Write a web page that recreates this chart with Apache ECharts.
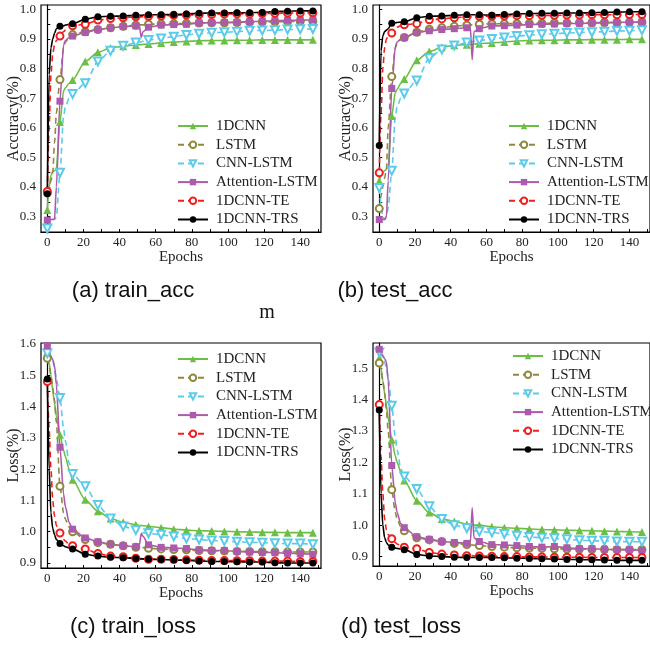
<!DOCTYPE html>
<html>
<head>
<meta charset="utf-8">
<script src="https://cdn.jsdelivr.net/npm/echarts@6/dist/echarts.min.js"></script>
<style>
  html, body { margin: 0; padding: 0; background: #fff; }
  #main { width: 650px; height: 646px; }
</style>
</head>
<body>
<div id="main"></div>
<script>
// epochs sampled from the curves (markers sit on multiples of 7)
var epochs = [0, 1, 2, 3, 4, 5, 7, 9, 10, 12, 14, 21, 28, 35, 42, 49, 51, 52, 53, 56, 63, 70, 77, 84, 91, 98, 105, 112, 119, 126, 133, 140, 147];
var modelNames = ["1DCNN", "LSTM", "CNN-LSTM", "Attention-LSTM", "1DCNN-TE", "1DCNN-TRS"];
var xTickLabels = [0, 20, 40, 60, 80, 100, 120, 140];
var accTickLabels = [0.3, 0.4, 0.5, 0.6, 0.7, 0.8, 0.9, 1.0];
var trainLossTickLabels = [0.9, 1.0, 1.1, 1.2, 1.3, 1.4, 1.5, 1.6];
var testLossTickLabels = [0.9, 1.0, 1.1, 1.2, 1.3, 1.4, 1.5];
var captions = ["(a) train_acc", "(b) test_acc", "(c) train_loss", "(d) test_loss"];

// (a) train_acc
var trainAcc_1dcnn = [0.322, 0.40, 0.44, 0.452, 0.455, 0.46, 0.62, 0.725, 0.735, 0.75, 0.762, 0.824, 0.855, 0.870, 0.876, 0.880, 0.881, 0.881, 0.882, 0.883, 0.887, 0.890, 0.892, 0.894, 0.895, 0.895, 0.896, 0.896, 0.897, 0.897, 0.897, 0.897, 0.898];
var trainAcc_lstm = [0.38, 0.40, 0.42, 0.45, 0.55, 0.65, 0.763, 0.87, 0.89, 0.905, 0.915, 0.925, 0.932, 0.938, 0.943, 0.947, 0.948, 0.948, 0.948, 0.950, 0.951, 0.952, 0.953, 0.954, 0.955, 0.955, 0.956, 0.957, 0.958, 0.958, 0.959, 0.960, 0.960];
var trainAcc_cnnlstm = [0.26, 0.28, 0.29, 0.29, 0.29, 0.30, 0.448, 0.64, 0.67, 0.70, 0.714, 0.751, 0.824, 0.860, 0.877, 0.888, 0.890, 0.891, 0.892, 0.897, 0.902, 0.908, 0.914, 0.918, 0.921, 0.923, 0.925, 0.928, 0.929, 0.930, 0.932, 0.933, 0.934];
var trainAcc_att = [0.288, 0.29, 0.29, 0.29, 0.292, 0.40, 0.69, 0.88, 0.895, 0.905, 0.910, 0.922, 0.932, 0.938, 0.942, 0.944, 0.944, 0.905, 0.925, 0.940, 0.947, 0.949, 0.950, 0.954, 0.955, 0.956, 0.957, 0.959, 0.960, 0.962, 0.963, 0.964, 0.965];
var trainAcc_te = [0.385, 0.60, 0.78, 0.85, 0.88, 0.895, 0.910, 0.925, 0.93, 0.94, 0.945, 0.950, 0.964, 0.969, 0.972, 0.975, 0.975, 0.975, 0.976, 0.977, 0.978, 0.980, 0.981, 0.982, 0.983, 0.984, 0.985, 0.985, 0.986, 0.987, 0.988, 0.988, 0.989];
var trainAcc_trs = [0.377, 0.78, 0.87, 0.90, 0.92, 0.935, 0.943, 0.945, 0.947, 0.95, 0.952, 0.967, 0.975, 0.977, 0.978, 0.980, 0.980, 0.980, 0.981, 0.982, 0.982, 0.983, 0.985, 0.987, 0.988, 0.988, 0.989, 0.989, 0.990, 0.993, 0.994, 0.995, 0.995];

// (b) test_acc
var testAcc_1dcnn = [0.42, 0.44, 0.45, 0.455, 0.46, 0.47, 0.64, 0.72, 0.73, 0.75, 0.765, 0.828, 0.858, 0.872, 0.879, 0.881, 0.882, 0.882, 0.883, 0.884, 0.887, 0.890, 0.893, 0.895, 0.896, 0.896, 0.897, 0.897, 0.898, 0.898, 0.898, 0.899, 0.899];
var testAcc_lstm = [0.327, 0.37, 0.40, 0.43, 0.46, 0.60, 0.773, 0.87, 0.885, 0.898, 0.905, 0.923, 0.933, 0.938, 0.943, 0.947, 0.948, 0.948, 0.948, 0.950, 0.951, 0.952, 0.952, 0.953, 0.953, 0.954, 0.954, 0.955, 0.955, 0.956, 0.956, 0.957, 0.957];
var testAcc_cnnlstm = [0.397, 0.34, 0.30, 0.29, 0.30, 0.33, 0.455, 0.64, 0.67, 0.70, 0.716, 0.760, 0.835, 0.865, 0.878, 0.888, 0.890, 0.891, 0.892, 0.895, 0.900, 0.905, 0.910, 0.913, 0.916, 0.918, 0.920, 0.922, 0.923, 0.925, 0.927, 0.928, 0.930];
var testAcc_att = [0.29, 0.29, 0.29, 0.29, 0.30, 0.42, 0.733, 0.875, 0.89, 0.90, 0.905, 0.922, 0.928, 0.932, 0.935, 0.938, 0.938, 0.830, 0.925, 0.935, 0.944, 0.945, 0.947, 0.949, 0.950, 0.951, 0.952, 0.953, 0.954, 0.955, 0.956, 0.957, 0.958];
var testAcc_te = [0.448, 0.65, 0.80, 0.87, 0.90, 0.91, 0.920, 0.935, 0.94, 0.945, 0.948, 0.952, 0.965, 0.968, 0.972, 0.975, 0.975, 0.975, 0.976, 0.977, 0.977, 0.978, 0.979, 0.979, 0.980, 0.980, 0.981, 0.981, 0.982, 0.982, 0.982, 0.983, 0.983];
var testAcc_trs = [0.540, 0.86, 0.91, 0.925, 0.93, 0.935, 0.953, 0.955, 0.956, 0.957, 0.958, 0.972, 0.977, 0.978, 0.980, 0.982, 0.982, 0.982, 0.982, 0.982, 0.980, 0.983, 0.985, 0.986, 0.987, 0.987, 0.988, 0.988, 0.989, 0.990, 0.991, 0.992, 0.992];

// (c) train_loss
var trainLoss_1dcnn = [1.575, 1.54, 1.50, 1.45, 1.41, 1.37, 1.310, 1.26, 1.24, 1.20, 1.166, 1.102, 1.065, 1.042, 1.030, 1.022, 1.020, 1.020, 1.019, 1.017, 1.013, 1.008, 1.005, 1.003, 1.002, 1.001, 1.000, 0.999, 0.998, 0.998, 0.997, 0.997, 0.997];
var trainLoss_lstm = [1.554, 1.53, 1.50, 1.46, 1.42, 1.35, 1.145, 1.06, 1.04, 1.015, 1.000, 0.975, 0.965, 0.960, 0.955, 0.950, 0.950, 0.950, 0.949, 0.947, 0.945, 0.943, 0.942, 0.940, 0.939, 0.938, 0.937, 0.937, 0.936, 0.936, 0.935, 0.935, 0.935];
var trainLoss_cnnlstm = [1.57, 1.565, 1.56, 1.55, 1.52, 1.49, 1.427, 1.33, 1.29, 1.22, 1.184, 1.145, 1.085, 1.042, 1.017, 1.005, 1.000, 0.998, 0.997, 0.995, 0.990, 0.985, 0.978, 0.975, 0.972, 0.970, 0.968, 0.966, 0.965, 0.963, 0.962, 0.962, 0.960];
var trainLoss_att = [1.594, 1.58, 1.56, 1.55, 1.53, 1.47, 1.270, 1.12, 1.08, 1.03, 1.008, 0.980, 0.968, 0.960, 0.955, 0.952, 0.958, 0.995, 0.985, 0.958, 0.950, 0.948, 0.946, 0.942, 0.940, 0.940, 0.937, 0.935, 0.934, 0.933, 0.931, 0.930, 0.928];
var trainLoss_te = [1.48, 1.33, 1.20, 1.10, 1.05, 1.02, 0.996, 0.975, 0.97, 0.96, 0.955, 0.945, 0.930, 0.922, 0.920, 0.915, 0.914, 0.914, 0.913, 0.912, 0.912, 0.911, 0.910, 0.909, 0.908, 0.908, 0.907, 0.907, 0.906, 0.906, 0.906, 0.905, 0.905];
var trainLoss_trs = [1.488, 1.20, 1.06, 1.01, 0.99, 0.975, 0.962, 0.955, 0.952, 0.948, 0.945, 0.928, 0.922, 0.918, 0.917, 0.914, 0.913, 0.913, 0.913, 0.912, 0.911, 0.910, 0.908, 0.906, 0.905, 0.905, 0.904, 0.903, 0.903, 0.901, 0.900, 0.900, 0.900];

// (d) test_loss
var testLoss_1dcnn = [1.532, 1.50, 1.46, 1.42, 1.38, 1.34, 1.272, 1.22, 1.20, 1.17, 1.142, 1.078, 1.040, 1.020, 1.012, 1.003, 1.002, 1.001, 1.000, 1.000, 0.995, 0.992, 0.990, 0.988, 0.986, 0.985, 0.984, 0.983, 0.982, 0.981, 0.980, 0.979, 0.978];
var testLoss_lstm = [1.516, 1.49, 1.46, 1.42, 1.37, 1.30, 1.113, 1.04, 1.02, 0.995, 0.982, 0.960, 0.953, 0.948, 0.942, 0.938, 0.937, 0.937, 0.936, 0.935, 0.932, 0.930, 0.928, 0.927, 0.926, 0.925, 0.924, 0.924, 0.923, 0.923, 0.922, 0.922, 0.922];
var testLoss_cnnlstm = [1.55, 1.545, 1.53, 1.52, 1.50, 1.47, 1.380, 1.28, 1.24, 1.18, 1.155, 1.115, 1.060, 1.020, 1.000, 0.990, 0.985, 0.983, 0.982, 0.980, 0.977, 0.972, 0.966, 0.962, 0.960, 0.958, 0.955, 0.952, 0.950, 0.950, 0.948, 0.947, 0.947];
var testLoss_att = [1.560, 1.55, 1.54, 1.53, 1.52, 1.46, 1.190, 1.07, 1.04, 1.005, 0.992, 0.963, 0.955, 0.948, 0.945, 0.942, 0.945, 1.055, 0.960, 0.948, 0.938, 0.937, 0.935, 0.932, 0.930, 0.932, 0.928, 0.925, 0.925, 0.923, 0.922, 0.922, 0.920];
var testLoss_te = [1.384, 1.22, 1.10, 1.02, 0.985, 0.97, 0.957, 0.945, 0.94, 0.934, 0.930, 0.925, 0.913, 0.908, 0.905, 0.903, 0.903, 0.903, 0.902, 0.902, 0.901, 0.900, 0.900, 0.899, 0.899, 0.898, 0.898, 0.898, 0.897, 0.897, 0.897, 0.897, 0.897];
var testLoss_trs = [1.367, 1.10, 1.00, 0.96, 0.945, 0.937, 0.930, 0.927, 0.926, 0.924, 0.922, 0.907, 0.902, 0.900, 0.898, 0.897, 0.897, 0.897, 0.897, 0.897, 0.897, 0.896, 0.895, 0.894, 0.893, 0.892, 0.891, 0.890, 0.890, 0.889, 0.888, 0.888, 0.888];

var panelData = [
    [trainAcc_1dcnn, trainAcc_lstm, trainAcc_cnnlstm, trainAcc_att, trainAcc_te, trainAcc_trs],
    [testAcc_1dcnn, testAcc_lstm, testAcc_cnnlstm, testAcc_att, testAcc_te, testAcc_trs],
    [trainLoss_1dcnn, trainLoss_lstm, trainLoss_cnnlstm, trainLoss_att, trainLoss_te, trainLoss_trs],
    [testLoss_1dcnn, testLoss_lstm, testLoss_cnnlstm, testLoss_att, testLoss_te, testLoss_trs]
];

// line styles for each model
var styles = [
    { color: '#6cbf44', dash: 'solid', symbol: 'triangle', rotate: 0, size: 8 },
    { color: '#8e893c', dash: [6, 4], symbol: 'emptyCircle', rotate: 0, size: 7 },
    { color: '#5ccbea', dash: [6, 4], symbol: 'emptyTriangle', rotate: 180, size: 8 },
    { color: '#ac5aac', dash: 'solid', symbol: 'rect', rotate: 0, size: 7 },
    { color: '#f01e1e', dash: [6, 4], symbol: 'emptyCircle', rotate: 0, size: 7 },
    { color: '#000000', dash: 'solid', symbol: 'circle', rotate: 0, size: 7 }
];

var serif = "'Liberation Serif', 'Times New Roman', serif";
var sans = "'Liberation Sans', Arial, sans-serif";

var grids = [
    { left: 41, top: 5, width: 280, height: 227 },
    { left: 373, top: 5, width: 280, height: 227 },
    { left: 41, top: 343, width: 280, height: 225 },
    { left: 373, top: 343, width: 280, height: 223 }
];
var yRanges = [[0.248, 1.015], [0.248, 1.015], [0.884, 1.603], [0.870, 1.580]];
var yTicks = [accTickLabels, accTickLabels, trainLossTickLabels, testLossTickLabels];
var yNames = ['Accuracy(%)', 'Accuracy(%)', 'Loss(%)', 'Loss(%)'];
var legendPos = [[177, 118.5], [508, 118.5], [177, 351.5], [512, 348.5]];
var captionPos = [[133, 291], [395, 291], [133, 627], [401, 627]];

function minorTicks(major) {
    var out = [];
    for (var i = 0; i < major.length; i++) {
        out.push(major[i]);
        out.push(+(major[i] + (major[1] - major[0]) / 2).toFixed(3));
    }
    return out;
}

var option = {
    backgroundColor: '#fff',
    animation: false,
    grid: [], xAxis: [], yAxis: [], legend: [], series: [], graphic: []
};

for (var p = 0; p < 4; p++) {
    option.grid.push({
        left: grids[p].left, top: grids[p].top, width: grids[p].width, height: grids[p].height,
        show: true, borderColor: '#000', borderWidth: 1.2, backgroundColor: 'transparent'
    });
    option.xAxis.push({
        type: 'value', gridIndex: p, min: -3.5, max: 151.5,
        name: 'Epochs', nameLocation: 'middle', nameGap: 16,
        nameTextStyle: { fontFamily: serif, fontSize: 15, color: '#222' },
        axisLine: { lineStyle: { color: '#000', width: 1.2 } },
        axisTick: { inside: true, length: 3, customValues: minorTicks(xTickLabels), lineStyle: { color: '#000' } },
        axisLabel: { customValues: xTickLabels, fontFamily: serif, fontSize: 13, color: '#222', margin: 4 },
        splitLine: { show: false }
    });
    option.yAxis.push({
        type: 'value', gridIndex: p, min: yRanges[p][0], max: yRanges[p][1],
        name: yNames[p], nameLocation: 'middle', nameGap: 19, nameMoveOverlap: false,
        nameTextStyle: { fontFamily: serif, fontSize: 16, color: '#222' },
        axisLine: { show: true, lineStyle: { color: '#000', width: 1.2 } },
        axisTick: { show: true, inside: true, length: 3, customValues: minorTicks(yTicks[p]), lineStyle: { color: '#000' } },
        axisLabel: {
            customValues: yTicks[p], fontFamily: serif, fontSize: 13, color: '#222', margin: 5,
            formatter: function (v) { return v.toFixed(1); }
        },
        splitLine: { show: false }
    });
    option.legend.push({
        orient: 'vertical', left: legendPos[p][0], top: legendPos[p][1],
        padding: 0, itemWidth: 30, itemHeight: 8, itemGap: 3.7, selectedMode: false,
        data: modelNames,
        textStyle: { fontFamily: serif, fontSize: 15, color: '#222', lineHeight: 15, padding: [0, 0, 0, 3] }
    });
    for (var s = 0; s < 6; s++) {
        var pts = [];
        for (var i = 0; i < epochs.length; i++) {
            pts.push([epochs[i], panelData[p][s][i]]);
        }
        option.series.push({
            name: modelNames[s],
            type: 'line',
            xAxisIndex: p, yAxisIndex: p,
            data: pts,
            smooth: 0.25,
            smoothMonotone: 'x',
            symbol: styles[s].symbol,
            symbolRotate: styles[s].rotate,
            symbolSize: (function (sz) {
                return function (v) { return v[0] % 7 === 0 ? sz : 0; };
            })(styles[s].size),
            showAllSymbol: true,
            itemStyle: { color: styles[s].color },
            lineStyle: { color: styles[s].color, width: 1.6, type: styles[s].dash }
        });
    }
    option.graphic.push({
        type: 'text', x: captionPos[p][0], y: captionPos[p][1],
        style: { text: captions[p], fontFamily: sans, fontSize: 22, fill: '#111', align: 'center', verticalAlign: 'middle' }
    });
}

// stray label between the top panels
option.graphic.push({
    type: 'text', x: 267, y: 313,
    style: { text: 'm', fontFamily: serif, fontSize: 20, fill: '#111', align: 'center', verticalAlign: 'middle' }
});

var chart = echarts.init(document.getElementById('main'));
chart.setOption(option);
</script>
</body>
</html>
